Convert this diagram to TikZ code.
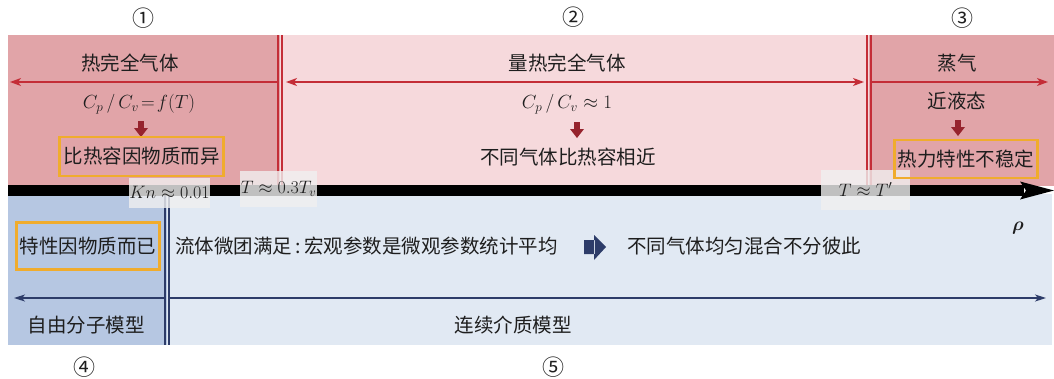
\RequirePackage{fix-cm}
\documentclass[tikz,border=0pt]{standalone}
\usepackage{fontspec}
\usepackage{bm}
\newfontfamily\cjk{Noto Sans CJK SC}
\usetikzlibrary{arrows.meta}
\definecolor{pinkD}{RGB}{225,164,168}
\definecolor{pinkL}{RGB}{246,217,220}
\definecolor{redL}{RGB}{196,45,55}
\definecolor{blueD}{RGB}{182,199,226}
\definecolor{blueL}{RGB}{225,233,243}
\definecolor{navy}{RGB}{45,60,105}
\definecolor{orng}{RGB}{240,172,45}
\definecolor{darkred}{RGB}{150,35,45}
\definecolor{txt}{RGB}{30,30,30}
\tikzset{
  cn/.style={font=\cjk\fontsize{19.5}{22}\selectfont, text=txt, inner sep=0pt},
  num/.style={font=\cjk\fontsize{22}{24}\selectfont, text=txt, inner sep=0pt},
  mth/.style={font=\fontsize{19}{22}\selectfont, text=txt, inner sep=0pt},
  obox/.style={draw=orng, line width=2.6pt, inner xsep=4pt, minimum height=39pt},
  gbox/.style={fill=gray!12, fill opacity=0.8, text opacity=1, inner sep=0pt, font=\fontsize{18}{20}\selectfont, text=txt},
  redarr/.style={draw=redL, line width=1.3pt, -{Stealth[length=11pt,width=8pt,inset=3pt]}},
  navyarr/.style={draw=navy, line width=1.3pt, -{Stealth[length=11pt,width=7pt,inset=3pt]}},
  dline/.style={line width=1.3pt},
}
\begin{document}
\begin{tikzpicture}[x=1pt,y=-1pt]
\useasboundingbox (0,0) rectangle (1054,378);
% top band
\fill[pinkD] (8,35) rectangle (280,186);
\fill[pinkL] (280,35) rectangle (869,186);
\fill[pinkD] (869,35) rectangle (1054,186);
% bottom band
\fill[blueD] (8,194) rectangle (167,345);
\fill[blueL] (167,194) rectangle (1052,345);
% double lines
\draw[dline, redL] (278,35) -- (278,186) (282,35) -- (282,186);
\draw[dline, redL] (867,35) -- (867,186) (871,35) -- (871,186);
\draw[dline, navy] (165,194) -- (165,345) (169,194) -- (169,345);
% red arrows
\coordinate (r1a) at (278,82); \coordinate (r1b) at (10,82);
\coordinate (r2a) at (286,82); \coordinate (r2b) at (864,82);
\coordinate (r3a) at (871,82); \coordinate (r3b) at (1048,82);
\draw[redarr] (r1a) -- (r1b);
\draw[redarr, {Stealth[length=11pt,width=8pt,inset=3pt]}-{Stealth[length=11pt,width=8pt,inset=3pt]}] (r2a) -- (r2b);
\draw[redarr] (r3a) -- (r3b);
% navy arrows
\coordinate (n1a) at (165,298); \coordinate (n1b) at (14,298);
\coordinate (n2a) at (169,298); \coordinate (n2b) at (1046,298);
\draw[navyarr] (n1a) -- (n1b);
\draw[navyarr] (n2a) -- (n2b);
% black axis
\fill[black] (8,185) rectangle (1024,195.5);
\fill[black] (1020,181.5) -- (1054,190.5) -- (1020,199.5) -- (1026,190.5) -- cycle;
% gray label boxes
\node[gbox, minimum width=79pt, minimum height=30pt] (k1) at (169.5,192.5) {$Kn\approx0.01$};
\node[gbox, minimum width=77pt, minimum height=36pt] (k2) at (278.5,189) {\raisebox{3pt}{$T\approx0.3T_v$}};
\node[gbox, minimum width=89pt, minimum height=40pt] (k3) at (865.5,189.5) {\raisebox{-5pt}{$T\approx T'$}};
% circled numbers
\node[num] (c1) at (143,18) {①};
\node[num] (c2) at (573,17) {②};
\node[num] (c3) at (962,18) {③};
\node[num] (c4) at (84,367) {④};
\node[num] (c5) at (553,367) {⑤};
% top texts
\node[cn] (t1) at (130,63) {热完全气体};
\node[cn] (t2) at (567,63) {量热完全气体};
\node[cn] (t3) at (957,63) {蒸气};
\node[mth] (m1) at (139,104) {$C_p\,/\,C_v\!=\!f(T)$};
\node[mth] (m2) at (567,104) {$C_p\,/\,C_v\approx1$};
\node[cn] (m3) at (957,101) {近液态};
% dark red down arrows
\foreach \x/\y in {141/121, 577/122, 958/120}{
  \fill[darkred] (\x-3,\y) rectangle (\x+3,\y+8);
  \fill[darkred] (\x-7,\y+7) -- (\x+7,\y+7) -- (\x,\y+16) -- cycle;
}
\node[cn, obox] (b1) at (141.5,156.5) {比热容因物质而异};
\node[cn] (b2) at (568,157) {不同气体比热容相近};
\node[cn, obox, inner xsep=3pt, minimum height=38pt] (b3) at (966,159) {热力特性不稳定};
% bottom texts
\node[cn, obox, inner xsep=3pt, minimum height=47pt] (b4) at (88,246) {特性因物质而已};
\node[cn, anchor=west] (f1) at (175,246) {流体微团满足\,:\,宏观参数是微观参数统计平均};
\fill[navy] (584,240) rectangle (595,254) (594,235) -- (606,247) -- (594,260) -- cycle;
\node[cn, anchor=west] (f2) at (627,246) {不同气体均匀混合不分彼此};
\node[font=\fontsize{19}{22}\selectfont, text=txt, inner sep=0pt] (rho) at (1018,228) {$\bm{\rho}$};
\node[cn] (l4) at (86,325) {自由分子模型};
\node[cn] (l5) at (513,325) {连续介质模型};
\end{tikzpicture}
\end{document}
